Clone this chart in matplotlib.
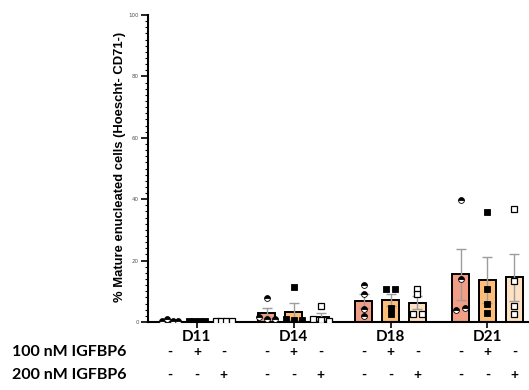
import numpy as np
import matplotlib
matplotlib.use("Agg")
import matplotlib.pyplot as plt
from matplotlib.transforms import blended_transform_factory

# ---------------- data ----------------
days = ["D11", "D14", "D18", "D21"]
row_labels = ["100 nM IGFBP6", "200 nM IGFBP6"]
signs_100 = ["-", "+", "-"]
signs_200 = ["-", "-", "+"]

# individual replicate values (%), per day, per condition
ctrl_vals = [[0.3, 0.9, 0.4, 0.3],
             [7.7, 1.5, 1.0, 1.0],
             [12.0, 9.0, 4.1, 2.0],
             [39.7, 14.0, 3.9, 4.7]]
igf100_vals = [[0.3, 0.3, 0.3, 0.3],
               [11.5, 1.0, 0.5, 0.5],
               [10.7, 10.7, 4.7, 2.6],
               [35.7, 10.7, 5.8, 3.0]]
igf200_vals = [[0.3, 0.3, 0.3, 0.3],
               [5.3, 1.0, 0.5, 0.3],
               [10.8, 9.2, 2.6, 2.6],
               [36.8, 13.4, 5.2, 2.6]]

series = [ctrl_vals, igf100_vals, igf200_vals]
bar_colors = ["#F29E86", "#FBBD78", "#FDE1C3"]

# ---------------- figure ----------------
W, H = 529, 390
fig = plt.figure(figsize=(W / 100, H / 100), dpi=100)
ax = fig.add_axes([148 / W, 68 / H, (W - 148) / W, 307 / H])

group_step = 3.6
bar_w = 0.63
unit_px = 26.9

def swarm_offsets(vals, thr=1.5, max_step=0.33, max_span=0.6):
    vals = np.asarray(vals, float)
    order = np.argsort(vals, kind="stable")
    offs = np.zeros(len(vals))
    clusters = []
    cur = [order[0]]
    for i in order[1:]:
        if vals[i] - vals[cur[-1]] < thr:
            cur.append(i)
        else:
            clusters.append(cur)
            cur = [i]
    clusters.append(cur)
    for c in clusters:
        c = sorted(c)
        k = len(c)
        step = min(max_step, max_span / max(k - 1, 1))
        for j, idx in enumerate(c):
            offs[idx] = (j - (k - 1) / 2) * step
    return offs

for s, vals_by_day in enumerate(series):
    for g, vals in enumerate(vals_by_day):
        x = g * group_step + s
        v = np.asarray(vals, float)
        m = v.mean()
        sem = v.std(ddof=1) / np.sqrt(len(v))
        ax.bar(x, m, width=bar_w, color=bar_colors[s], edgecolor="black",
               linewidth=1.4, zorder=2)
        ax.errorbar(x, m, yerr=sem, fmt="none", ecolor="#9d9d9d",
                    elinewidth=1.0, capsize=3.8, capthick=1.0, zorder=3)
        offs = swarm_offsets(v)
        if s == 0:
            ax.plot(x + offs, v, ls="none", marker="o", ms=4.2,
                    markerfacecolor="black", markerfacecoloralt="white",
                    fillstyle="top", markeredgecolor="black", mew=0.6, zorder=4)
        elif s == 1:
            ax.plot(x + offs, v, ls="none", marker="s", ms=3.8,
                    color="black", mew=0.6, zorder=4)
        else:
            ax.plot(x + offs, v, ls="none", marker="s", ms=3.8,
                    markerfacecolor="white", markeredgecolor="black",
                    mew=0.9, zorder=4)

ax.set_xlim(-22 / unit_px, (W - 170) / unit_px)
ax.set_ylim(0, 100)

for sp in ["top", "right"]:
    ax.spines[sp].set_visible(False)
ax.spines["left"].set_linewidth(1.5)
ax.spines["bottom"].set_linewidth(1.5)

centers = [g * group_step + 1 for g in range(len(days))]
ax.set_xticks(centers)
ax.set_xticklabels(days, fontfamily="Lato", fontweight="bold", fontsize=11)
ax.tick_params(axis="x", length=4, width=1.2, pad=2)

ax.set_yticks(np.arange(0, 101, 20))
ax.set_yticks(np.arange(0, 101, 2), minor=True)
ax.tick_params(axis="y", which="major", length=5, width=1.2, labelsize=4,
               labelcolor="#555555", pad=1.5)
ax.tick_params(axis="y", which="minor", length=2.5, width=0.8)

fig.text(120 / W, 1 - 167 / H, "% Mature enucleated cells (Hoescht- CD71-)",
         rotation=90, ha="center", va="center", fontsize=9.4,
         fontfamily="Liberation Sans", fontweight="bold")

# treatment rows
trans = blended_transform_factory(ax.transData, fig.transFigure)
rows_y = [1 - 352 / H, 1 - 375 / H]
for r, (lab, sg) in enumerate(zip(row_labels, [signs_100, signs_200])):
    fig.text(12 / W, rows_y[r], lab, ha="left", va="center",
             fontfamily="Lato", fontweight="bold", fontsize=11.5)
    for g in range(len(days)):
        for s in range(3):
            ax.text(g * group_step + s, rows_y[r], sg[s], transform=trans,
                    ha="center", va="center", fontfamily="Lato",
                    fontweight="bold", fontsize=10, clip_on=False)

fig.savefig("out.png", dpi=100)
